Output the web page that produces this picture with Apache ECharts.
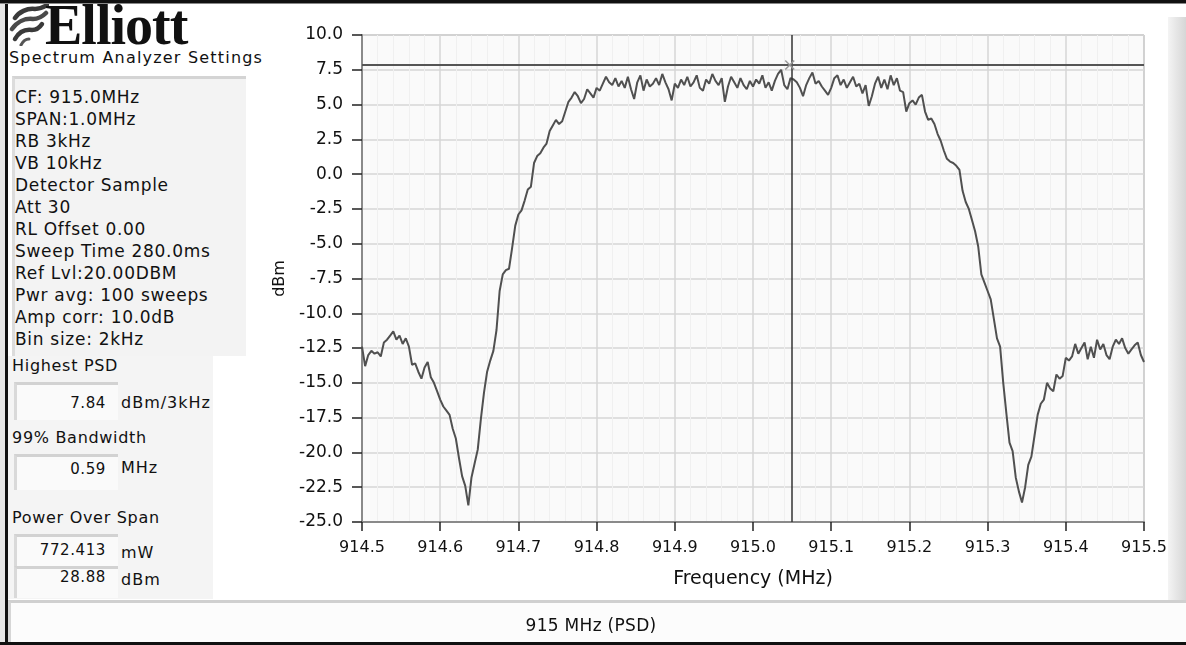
<!DOCTYPE html>
<html><head><meta charset="utf-8">
<script src="https://cdn.jsdelivr.net/npm/echarts@6/dist/echarts.min.js"></script>
<style>
html,body{margin:0;padding:0;width:1186px;height:645px;overflow:hidden;background:#fff;font-family:"DejaVu Sans",sans-serif;}
#chart{position:absolute;left:0;top:0;width:1186px;height:645px;}
.t{position:absolute;font-size:17px;letter-spacing:0.7px;color:#111;white-space:nowrap;line-height:20px;}
.box{position:absolute;background:#fafafa;border-top:3px solid #d2d2d2;border-left:3px solid #d9d9d9;box-sizing:border-box;}
</style></head>
<body>
<div style="position:absolute;left:0;top:0;width:5px;height:645px;background:#e6e6e6"></div>
<div style="position:absolute;left:5px;top:0;width:3px;height:645px;background:#111"></div>
<div style="position:absolute;left:0;top:0;width:1186px;height:3px;background:#111"></div>
<div style="position:absolute;left:0;top:3px;width:1186px;height:1px;background:#888"></div>
<div style="position:absolute;left:0;top:642px;width:1186px;height:3px;background:#111"></div>
<div style="position:absolute;left:1168px;top:17px;width:18px;height:583px;background:linear-gradient(90deg,#f4f4f4,#d6d6d6)"></div>
<div style="position:absolute;left:12px;top:76px;width:234px;height:280px;background:#f3f3f3;border-top:3px solid #d4d4d4;border-left:3px solid #dcdcdc;box-sizing:border-box"></div>
<div style="position:absolute;left:8px;top:356px;width:205px;height:243px;background:#f4f4f4"></div>
<div id="panel"></div>
<div id="chart"></div>
<div style="position:absolute;left:8px;top:600px;width:1178px;height:42px;background:#fcfcfc;border-top:3px solid #d0d0d0;border-left:3px solid #d6d6d6;box-sizing:border-box"></div>
<div id="bottomTitle" class="t" style="left:0px;width:1182px;top:615px;text-align:center;letter-spacing:0.3px"></div>
<svg style="position:absolute;left:9px;top:4px" width="40" height="42" viewBox="0 0 40 42">
<path d="M6 14 C10 8,18 4,26 5 C31 5,35 3,38 1" stroke="#3a3a3a" stroke-width="4.5" fill="none" stroke-linecap="round"/>
<path d="M3 25 C8 18,16 14,24 15 C30 15,34 12,37 9" stroke="#4a4a4a" stroke-width="4.5" fill="none" stroke-linecap="round"/>
<path d="M6 35 C10 28,16 25,23 26 C28 26,31 23,33 20" stroke="#3a3a3a" stroke-width="4.5" fill="none" stroke-linecap="round"/>
<path d="M12 41 C14 37,17 35,20 35" stroke="#555" stroke-width="3" fill="none" stroke-linecap="round"/>
</svg>
<div class="t" style="left:45px;top:1px;font-family:'Liberation Serif',serif;font-weight:bold;font-size:56px;line-height:48px;letter-spacing:-1px;color:#111">Elliott</div>
<script>
// ---- data ----
const binStartMHz = 914.5;
const binStepMHz = 0.004;
const psdDbm = [
-12.4,-13.8,-13.0,-12.7,-12.9,-12.8,-13.1,-12.1,-11.9,-11.6,
-11.3,-11.9,-11.6,-12.2,-11.8,-12.4,-13.7,-13.6,-14.2,-14.7,
-13.9,-13.5,-14.6,-15.0,-15.6,-16.2,-16.7,-17.0,-17.3,-18.3,
-19.0,-20.4,-21.7,-22.4,-23.8,-21.8,-20.8,-19.8,-17.6,-15.7,
-14.2,-13.4,-12.7,-11.2,-8.4,-7.2,-6.9,-6.8,-5.3,-3.7,
-2.9,-2.6,-1.9,-1.1,-0.9,0.8,1.3,1.5,1.9,2.2,
3.1,3.5,3.9,3.6,3.8,4.5,5.2,5.5,5.9,5.6,
5.1,5.4,6.1,5.8,5.5,6.2,6.0,6.5,7.0,6.6,
6.4,6.9,6.3,6.7,6.2,7.0,6.1,5.4,6.6,7.1,
6.0,6.8,6.3,6.5,6.9,6.4,7.2,6.6,6.1,5.3,
6.5,6.2,6.8,6.4,7.0,6.3,6.6,7.1,6.2,6.0,
6.8,6.5,7.2,6.7,6.4,6.9,5.2,6.3,7.0,6.6,
6.2,6.9,6.4,6.1,6.7,6.3,6.8,6.5,7.1,6.2,
6.6,6.0,6.7,7.2,7.5,6.4,6.1,6.9,6.8,6.6,
6.2,5.6,6.4,6.9,7.3,6.5,6.7,6.3,6.0,5.7,
6.2,6.9,7.1,6.4,6.8,6.2,6.6,7.0,6.3,6.5,
5.8,6.4,4.9,5.6,6.5,7.0,6.2,6.8,6.1,7.1,
6.4,6.9,6.0,5.9,4.5,5.1,5.3,5.0,5.5,5.7,
4.5,3.9,4.0,3.6,2.9,2.4,1.7,1.1,0.9,0.8,
0.6,0.3,-1.2,-2.0,-2.5,-3.3,-4.1,-5.2,-7.2,-7.8,
-8.4,-9.0,-10.4,-11.8,-12.4,-15.0,-17.2,-19.3,-19.9,-21.8,
-22.8,-23.6,-22.5,-20.9,-20.3,-18.8,-17.3,-16.5,-16.2,-15.0,
-15.4,-15.6,-14.4,-14.7,-14.5,-13.2,-13.4,-13.1,-12.2,-12.9,
-12.5,-12.1,-13.3,-12.4,-13.2,-11.9,-12.6,-12.2,-13.0,-13.3,
-12.4,-11.9,-12.2,-11.8,-12.5,-12.9,-12.6,-12.3,-12.1,-13.0,
-13.5
];
const cursorFreqMHz = 915.047;
const highestPsdDbm = 7.84;
const xMin = 914.5, xMax = 915.5, xInterval = 0.1;
const yMin = -25, yMax = 10, yInterval = 2.5;
const xAxisName = 'Frequency (MHz)';
const yAxisName = 'dBm';
const chartTitle = '915 MHz (PSD)';
const settingsTitle = 'Spectrum Analyzer Settings';
const settingsLines = ['CF: 915.0MHz','SPAN:1.0MHz','RB 3kHz','VB 10kHz','Detector Sample','Att 30','RL Offset 0.00','Sweep Time 280.0ms','Ref Lvl:20.00DBM','Pwr avg: 100 sweeps','Amp corr: 10.0dB','Bin size: 2kHz'];
const readouts = [
  {label:'Highest PSD', value:'7.84', unit:'dBm/3kHz'},
  {label:'99% Bandwidth', value:'0.59', unit:'MHz'},
  {label:'Power Over Span', value:'772.413', unit:'mW'},
  {label:null, value:'28.88', unit:'dBm'}
];

// ---- left panel ----
const panel = document.getElementById('panel');
function addText(txt, left, centerY, extra){
  const d = document.createElement('div');
  d.className = 't'; d.textContent = txt;
  d.style.left = left+'px'; d.style.top = (centerY-10)+'px';
  if (extra) Object.assign(d.style, extra);
  panel.appendChild(d);
  return d;
}
addText(settingsTitle, 9, 58, {fontSize:'16px', letterSpacing:'1.2px'});
settingsLines.forEach((s,i)=>addText(s, 15, 97 + i*22));
const layout = [
  {lc:366, bt:382, bh:38, vc:403, uc:403},
  {lc:438, bt:454, bh:36, vc:469, uc:468},
  {lc:518, bt:534, bh:32, vc:550, uc:553},
  {lc:null, bt:566, bh:32, vc:577, uc:580}
];
readouts.forEach((r,i)=>{
  const L = layout[i];
  if (r.label) addText(r.label, 12, L.lc, {fontSize:'16px'});
  const b = document.createElement('div');
  b.className='box'; b.style.left='14px'; b.style.top=L.bt+'px'; b.style.width='104px'; b.style.height=L.bh+'px';
  panel.appendChild(b);
  addText(r.value, 14, L.vc, {width:'92px', textAlign:'right', fontSize:'15px', letterSpacing:'0.6px'});
  addText(r.unit, 121, L.uc, {fontSize:'16px', letterSpacing:'1px'});
});
document.getElementById('bottomTitle').textContent = chartTitle;

// ---- chart ----
const seriesData = psdDbm.map((v,i)=>[binStartMHz + i*binStepMHz, v]);
const chart = echarts.init(document.getElementById('chart'), null, {renderer:'canvas'});
const axisFont = {fontFamily:'DejaVu Sans', fontSize:16, color:'#111'};
chart.setOption({
  animation:false,
  backgroundColor:'transparent',
  grid:{left:362, right:42, top:35, bottom:123, show:true, backgroundColor:'#fafafa', borderColor:'#8f8f8f', borderWidth:1},
  xAxis:{
    type:'value', min:xMin, max:xMax, interval:xInterval,
    name:xAxisName, nameLocation:'middle', nameGap:48,
    nameTextStyle:Object.assign({}, axisFont, {fontSize:19}),
    axisLine:{show:true, onZero:false, lineStyle:{color:'#8a8a8a', width:2}},
    axisTick:{show:true, length:9, lineStyle:{color:'#222', width:1.5}},
    axisLabel:Object.assign({margin:18, formatter:v=>v.toFixed(1)}, axisFont),
    splitLine:{show:true, lineStyle:{color:'#d6d6d6', width:1.5}},
    minorTick:{show:false, splitNumber:5},
    minorSplitLine:{show:true, lineStyle:{color:'#f0f0f0', width:1}}
  },
  yAxis:{
    type:'value', min:yMin, max:yMax, interval:yInterval,
    name:yAxisName, nameLocation:'middle', nameGap:66, nameRotate:90,
    nameTextStyle:Object.assign({}, axisFont, {fontSize:16}),
    axisLine:{show:true, onZero:false, lineStyle:{color:'#8a8a8a', width:2}},
    axisTick:{show:true, length:10, lineStyle:{color:'#222', width:1.5}},
    axisLabel:Object.assign({margin:19, formatter:v=>v.toFixed(1)}, axisFont, {fontSize:17}),
    splitLine:{show:true, lineStyle:{color:'#d6d6d6', width:1.5}}
  },
  series:[{
    type:'line', data:seriesData, showSymbol:false, symbol:'none',
    lineStyle:{color:'#505050', width:2},
    markLine:{
      silent:true, symbol:'none', label:{show:false}, animation:false,
      data:[
        {xAxis:cursorFreqMHz, lineStyle:{color:'#333', width:1.5, type:'solid'}},
        {yAxis:highestPsdDbm, lineStyle:{color:'#555', width:2, type:'solid'}}
      ]
    },
    markPoint:{
      silent:true, animation:false,
      symbol:'path://M0,0 L10,10 M10,0 L0,10',
      symbolSize:9,
      itemStyle:{color:'none', borderColor:'#999', borderWidth:1.5},
      label:{show:false},
      data:[{coord:[cursorFreqMHz, highestPsdDbm]}]
    }
  }]
});
</script>
</body></html>
